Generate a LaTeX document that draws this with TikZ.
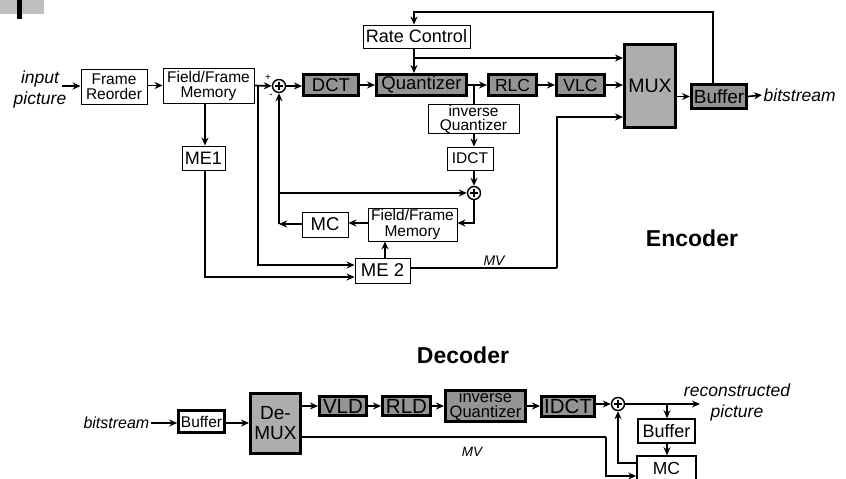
\documentclass[tikz,border=0pt]{standalone}
\usepackage{fontspec}
\setmainfont{Liberation Sans}
\usetikzlibrary{arrows.meta,calc}
\newcommand{\myfs}[2]{\fontsize{#1}{#2}\selectfont}
\begin{document}
\begin{tikzpicture}[x=1pt,y=-1pt,
 lbox/.style={draw=black, line width=0.9pt, fill=white, inner sep=0pt, align=center, font=\myfs{15.5}{15}},
 dbox/.style={draw=black, line width=3pt, fill=black!42, inner sep=0pt, align=center, font=\myfs{18.5}{15}},
 wbox/.style={draw=black, line width=2.6pt, fill=white, inner sep=0pt, align=center, font=\myfs{15.5}{14}},
 mbox/.style={draw=black, line width=1.6pt, fill=white, inner sep=0pt, align=center, font=\myfs{17.5}{15}},
 arr/.style={line width=1.7pt, -{Stealth[length=8pt,width=7pt]}},
 ln/.style={line width=1.7pt},
 sumc/.style={circle, draw=black, line width=1.4pt, fill=white, minimum size=13pt, inner sep=0pt},
 itl/.style={font=\itshape\myfs{17.5}{21}, inner sep=1.5pt, align=center},
 ttl/.style={font=\bfseries\myfs{23}{23}, inner sep=0pt},
]
\useasboundingbox (0,0) rectangle (846,479);
% scan artifact
\fill[black!25] (0,0) rectangle (44,14);
\fill[black] (17,0) rectangle (22,19);

% ---------------- Encoder ----------------
\node[itl] (inp) at (40,89) {input\\picture};
\coordinate (ia) at (62,86);
\node[lbox, minimum width=66pt, minimum height=35pt] (fr) at (114,86.5) {Frame\\Reorder};
\node[lbox, minimum width=91pt, minimum height=35pt] (ffm1) at (208.5,85.5) {Field/Frame\\Memory};
\node[sumc] (s1) at (279,86) {};
\node[font=\myfs{10}{10}] (plus1) at (268,78) {+};
\node[font=\myfs{10}{10}] (minus1) at (271,96) {-};
\node[dbox, minimum width=55pt, minimum height=21pt] (dct) at (331,85) {DCT};
\node[dbox, minimum width=90pt, minimum height=21pt] (quant) at (421.5,85) {Quantizer};
\node[dbox, minimum width=48pt, minimum height=21pt, font=\myfs{17.5}{15}] (rlc) at (512.5,85) {RLC};
\node[dbox, minimum width=48pt, minimum height=21pt, font=\myfs{17.5}{15}] (vlc) at (580.5,85) {VLC};
\node[dbox, fill=black!32, minimum width=51pt, minimum height=83pt, font=\myfs{19.5}{15}] (mux) at (650,86) {MUX};
\node[dbox, minimum width=55pt, minimum height=24pt, font=\myfs{19}{15}] (buf) at (719,96.5) {Buffer};
\node[itl, anchor=west] (bs) at (762,95) {bitstream};
\node[lbox, minimum width=107pt, minimum height=23pt, font=\myfs{18}{15}] (rate) at (416.5,36.5) {Rate Control};
\node[lbox, minimum width=91pt, minimum height=28pt, font=\myfs{15.5}{14}] (iq) at (473.5,119) {inverse\\Quantizer};
\node[lbox, minimum width=46pt, minimum height=23pt] (idct) at (470,158.5) {IDCT};
\node[sumc] (s2) at (474,193) {};
\node[lbox, minimum width=43pt, minimum height=24pt, font=\myfs{18}{15}] (me1) at (203.5,158) {ME1};
\node[lbox, minimum width=89pt, minimum height=33pt, font=\myfs{15.5}{16}] (ffm2) at (412.5,224.5) {Field/Frame\\Memory};
\node[lbox, minimum width=46pt, minimum height=25pt, font=\myfs{18.5}{15}] (mc) at (325,224.5) {MC};
\node[lbox, minimum width=55pt, minimum height=25pt, font=\myfs{18.5}{15}] (me2) at (382.5,270.5) {ME 2};
\node[ttl] (enc) at (692,238) {Encoder};
\node[font=\itshape\myfs{14}{14}] (mv1) at (494,261) {MV};

% plus signs in summing nodes
\foreach \s in {s1,s2} {
  \draw[line width=1.2pt] ($(\s.center)+(-4,0)$) -- ($(\s.center)+(4,0)$);
  \draw[line width=1.2pt] ($(\s.center)+(0,-4)$) -- ($(\s.center)+(0,4)$);
}

% junctions
\coordinate (jq) at (474,85);
\coordinate (jf) at (258,85.5);
\coordinate (jr) at (414,58);
\coordinate (jfb) at (279,224);
\coordinate (jfb2) at (279,193);
\coordinate (jmv) at (557,268);

% encoder connectors
\draw[arr] (ia) -- (fr.west |- ia);
\draw[arr] (fr.east |- ffm1) -- (ffm1.west);
\draw[arr] (ffm1.east) -- (s1.west);
\draw[arr] (s1.east) -- (dct.west |- s1);
\draw[arr] (dct) -- (quant);
\draw[ln] (quant.east) -- (jq);
\draw[arr] (jq) -- (rlc.west);
\draw[ln] (jq) -- (jq |- iq.north);
\draw[arr] (rlc) -- (vlc);
\draw[arr] (vlc.east) -- (mux.west |- vlc);
\draw[arr] (mux.east |- buf) -- (buf.west);
\draw[arr] (buf.east) -- (bs.west);
\draw[arr] (buf.north -| 713,0) -- (713,12) -- (414,12) -- (rate.north -| 414,0);
\draw[arr] (rate.south -| 414,0) -- (quant.north -| 414,0);
\draw[arr] (jr) -- (jr -| mux.west);
\draw[arr] (jq |- iq.south) -- (jq |- idct.north);
\draw[arr] (jq |- idct.south) -- (s2.north);
\draw[arr] (s2.south) -- (s2 |- 0,223) -- (ffm2.east |- 0,223);
\draw[arr] (ffm2.west |- 0,223) -- (mc.east |- 0,223);
\draw[arr] (mc.west |- jfb) -- (jfb);
\draw[arr] (jfb) -- (s1.south);
\draw[arr] (jfb2) -- (s2.west);
\draw[arr] (ffm1.south -| 205,0) -- (me1.north -| 205,0);
\draw[arr] (me1.south -| 205,0) -- (205,277) -- (me2.west |- 0,277);
\draw[arr] (jf) -- (258,265) -- (me2.west |- 0,265);
\draw[arr] (me2.north -| 385,0) -- (ffm2.south -| 385,0);
\draw[ln] (me2.east |- jmv) -- (jmv);
\draw[arr] (jmv) -- (557,117) -- (mux.west |- 0,117);

% ---------------- Decoder ----------------
\node[ttl] (dec) at (463,355) {Decoder};
\node[itl, anchor=east, font=\itshape\myfs{16}{16}] (dbs) at (151,423) {bitstream};
\node[wbox, minimum width=46pt, minimum height=22pt] (dbuf) at (201.5,421.5) {Buffer};
\node[dbox, fill=black!32, minimum width=50pt, minimum height=60pt, font=\myfs{19}{20}] (demux) at (275.5,423.5) {De-\\MUX};
\node[dbox, minimum width=47pt, minimum height=19pt, font=\myfs{20.5}{15}] (vld) at (343,406) {VLD};
\node[dbox, minimum width=48pt, minimum height=19pt, font=\myfs{20.5}{15}] (rld) at (406.5,406) {RLD};
\node[dbox, minimum width=80pt, minimum height=27pt, font=\myfs{16.5}{15}] (diq) at (485.5,406) {inverse\\Quantizer};
\node[dbox, minimum width=53pt, minimum height=20pt, font=\myfs{20.5}{15}] (didct) at (568,406) {IDCT};
\node[sumc] (s3) at (618,404) {};
\draw[line width=1.2pt] ($(s3.center)+(-4,0)$) -- ($(s3.center)+(4,0)$);
\draw[line width=1.2pt] ($(s3.center)+(0,-4)$) -- ($(s3.center)+(0,4)$);
\node[mbox, minimum width=57pt, minimum height=24pt, font=\myfs{18}{15}] (dbuf2) at (666.5,431) {Buffer};
\node[mbox, minimum width=59pt, minimum height=24pt] (dmc) at (666.5,468) {MC};
\node[itl] (rec) at (737,402) {reconstructed\\picture};
\node[font=\itshape\myfs{13.5}{13.5}] (mv2) at (472,452) {MV};

\coordinate (ro) at (700,404);
\coordinate (jd) at (667,404);
\coordinate (jm) at (606,437);

\draw[arr] (dbs.east) -- (dbuf.west |- dbs);
\draw[arr] (dbuf.east |- 0,423) -- (demux.west |- 0,423);
\draw[arr] (demux.east |- vld) -- (vld.west);
\draw[arr] (vld) -- (rld);
\draw[arr] (rld) -- (diq);
\draw[arr] (diq) -- (didct);
\draw[arr] (didct.east |- s3) -- (s3.west);
\draw[arr] (s3.east) -- (ro);
\draw[arr] (jd) -- (jd |- dbuf2.north);
\draw[arr] (jd |- dbuf2.south) -- (jd |- dmc.north);
\draw[arr] (dmc.west |- 0,463) -- (s3 |- 0,463) -- (s3.south);
\draw[ln] (demux.east |- jm) -- (jm);
\draw[arr] (jm) -- (606,476) -- (dmc.west |- 0,476);
\end{tikzpicture}
\end{document}
